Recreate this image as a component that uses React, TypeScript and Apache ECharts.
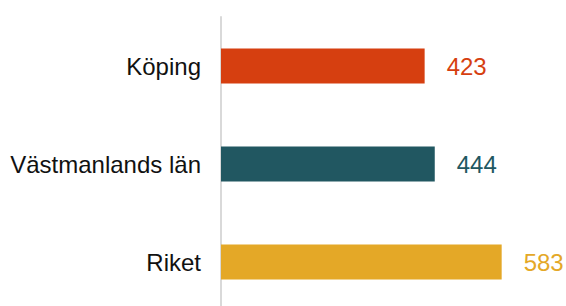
import React, { useEffect, useRef } from "react";
import * as echarts from "echarts";

const categories = ["Köping", "Västmanlands län", "Riket"];
const values = [423, 444, 583];
const colors = ["#D63F10", "#215761", "#E4A827"];

export default function App() {
  const ref = useRef<HTMLDivElement>(null);
  useEffect(() => {
    if (!ref.current) return;
    const chart = echarts.init(ref.current, null, { renderer: "svg" });
    chart.setOption({
      animation: false,
      backgroundColor: "#ffffff",
      grid: { left: 221, top: 17, width: 337, height: 294, containLabel: false },
      xAxis: {
        type: "value",
        min: 0,
        max: 700,
        show: false,
      },
      yAxis: {
        type: "category",
        data: categories,
        inverse: true,
        axisLine: { show: true, lineStyle: { color: "#D9D9D9", width: 2 } },
        axisTick: { show: false },
        axisLabel: {
          color: "#111111",
          fontSize: 24,
          fontFamily: "Liberation Sans, Arial, sans-serif",
          margin: 20,
        },
        splitLine: { show: false },
      },
      series: [
        {
          type: "bar",
          barWidth: 35,
          data: values.map((v, i) => ({
            value: v,
            itemStyle: { color: colors[i] },
            label: { color: colors[i] },
          })),
          label: {
            show: true,
            position: "right",
            distance: 22,
            fontSize: 24,
            fontFamily: "Liberation Sans, Arial, sans-serif",
          },
        },
      ],
    });
    return () => chart.dispose();
  }, []);
  return (
    <div
      style={{
        position: "absolute",
        left: 0,
        top: 0,
        width: 566,
        height: 306,
        overflow: "hidden",
        background: "#ffffff",
      }}
    >
      <div ref={ref} style={{ width: 566, height: 330 }} />
    </div>
  );
}
